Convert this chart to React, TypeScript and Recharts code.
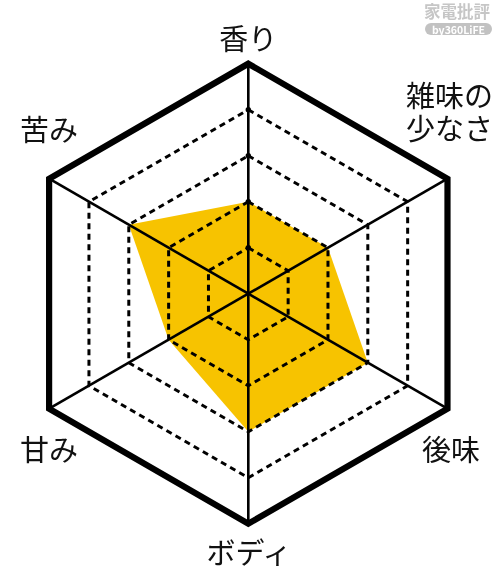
import React from 'react';
import { RadarChart, Radar, PolarGrid, PolarAngleAxis, PolarRadiusAxis } from 'recharts';

const categories = ['香り', '雑味の少なさ', '後味', 'ボディ', '甘み', '苦み'];
const scores = [2, 2, 3, 3, 2, 3];
const labelLines = [['香り'], ['雑味の', '少なさ'], ['後味'], ['ボディ'], ['甘み'], ['苦み']];
const levelTicks = [0, 1, 2, 3, 4, 5];
const tickAngles = [90, 30, -30, -90, -150, 150];

const CX = 248.3;
const CY = 293.7;
const OUTER_R = 230;
const MAX = 5;
const FONT = "'Noto Sans CJK JP', 'Noto Sans', sans-serif";
const LABEL_OFFSETS: [number, number][] = [
  [0, -26.7],
  [2, -68],
  [3.5, 39.3],
  [0.7, 27.3],
  [0, 39.3],
  [0, -50.7],
];
const LINE_H = 33;

const data = categories.map((c, i) => ({ subject: c, value: scores[i] }));
const innerRadii = levelTicks.filter((v) => v > 0 && v < MAX).map((v) => (OUTER_R * v) / MAX);

function AngleTick(props: any) {
  const { payload } = props;
  const i = categories.indexOf(payload.value);
  const a = (payload.coordinate * Math.PI) / 180;
  const vx = CX + OUTER_R * Math.cos(a);
  const vy = CY - OUTER_R * Math.sin(a);
  const [dx, dy] = LABEL_OFFSETS[i];
  const lines = labelLines[i];
  const n = lines.length;
  const x = vx + dx;
  return (
    <text
      x={x}
      y={vy + dy}
      textAnchor="middle"
      dominantBaseline="central"
      fontFamily={FONT}
      fontSize={29}
      fill="#111"
    >
      {lines.map((ln, k) => (
        <tspan key={k} x={x} y={vy + dy + (k - (n - 1) / 2) * LINE_H}>
          {ln}
        </tspan>
      ))}
    </text>
  );
}

function DotTick(props: any) {
  const { x, y, payload } = props;
  if (payload.value <= 0 || payload.value >= MAX) return <g />;
  return <circle cx={x} cy={y} r={2.7} fill="#000" />;
}

export default function App() {
  return (
    <div style={{ position: 'absolute', left: 0, top: 0, width: 500, height: 583, background: '#fff' }}>
      <style>{`.recharts-radar-polygon, .recharts-radar { mix-blend-mode: multiply; }`}</style>
      <RadarChart
        width={500}
        height={583}
        cx={CX}
        cy={CY}
        outerRadius={OUTER_R}
        data={data}
        margin={{ top: 0, right: 0, bottom: 0, left: 0 }}
      >
        <Radar
          dataKey="value"
          fill="#F7C300"
          fillOpacity={1}
          stroke="none"
          dot={false}
          isAnimationActive={false}
        />
        <PolarGrid
          gridType="polygon"
          polarRadius={innerRadii}
          radialLines={false}
          stroke="#000"
          strokeWidth={3}
          strokeDasharray="6 4.5"
        />
        <PolarGrid gridType="polygon" polarRadius={[0]} radialLines={true} stroke="#000" strokeWidth={2.6} />
        <PolarGrid gridType="polygon" polarRadius={[OUTER_R]} radialLines={false} stroke="#000" strokeWidth={6.2} />
        <PolarAngleAxis dataKey="subject" tick={<AngleTick />} tickLine={false} axisLine={false} />
        {tickAngles.map((ang, i) => (
          <PolarRadiusAxis
            key={i}
            radiusAxisId={i === 0 ? 0 : i}
            angle={ang}
            domain={[0, MAX]}
            ticks={levelTicks as any}
            tickCount={6}
            type="number"
            axisLine={false}
            tickLine={false}
            tick={<DotTick />}
          />
        ))}
      </RadarChart>
      <svg width={500} height={583} style={{ position: 'absolute', left: 0, top: 0, pointerEvents: 'none' }}>
        <text
          x={457}
          y={10.5}
          textAnchor="middle"
          dominantBaseline="central"
          fontFamily={FONT}
          fontWeight={700}
          fontSize={16.5}
          fill="#c6c6c6"
        >
          家電批評
        </text>
        <rect x={425} y={23} width={67} height={12} rx={6} fill="#c2c2c2" />
        <text
          x={458.5}
          y={29.5}
          textAnchor="middle"
          dominantBaseline="central"
          fontFamily={FONT}
          fontWeight={700}
          fontSize={10.5}
          fill="#fff"
        >
          by360LiFE
        </text>
      </svg>
    </div>
  );
}
